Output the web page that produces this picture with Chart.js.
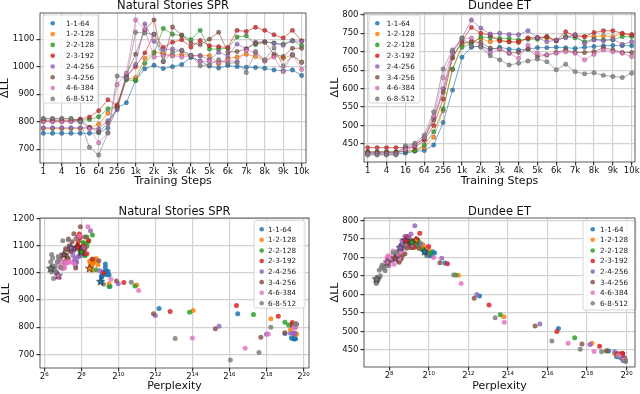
<!DOCTYPE html>
<html>
<head>
<meta charset="utf-8">
<script src="https://cdn.jsdelivr.net/npm/chart.js@4.4.1/dist/chart.umd.min.js"></script>
<style>
  html, body { margin: 0; padding: 0; background: #fff; }
  #wrap { position: relative; width: 640px; height: 394px; overflow: hidden; }
  .cell { position: absolute; width: 320px; height: 197px; }
</style>
</head>
<body>
<div id="wrap">
  <div class="cell" style="left:0;top:0"><canvas id="nsLine" width="320" height="197"></canvas></div>
  <div class="cell" style="left:320px;top:0"><canvas id="dtLine" width="320" height="197"></canvas></div>
  <div class="cell" style="left:0;top:197px"><canvas id="nsScatter" width="320" height="197"></canvas></div>
  <div class="cell" style="left:320px;top:197px"><canvas id="dtScatter" width="320" height="197"></canvas></div>
</div>
<script>
'use strict';

// training steps (x of the top row) and the labels shown on every other one
const steps = [1, 2, 4, 8, 16, 32, 64, 128, 256, 512, 1000, 1500, 2000, 2500, 3000, 3500, 4000,
  4500, 5000, 5500, 6000, 6500, 7000, 7500, 8000, 8500, 9000, 9500, 10000];
const stepTickLabels = ['1', '4', '16', '64', '256', '1k', '2k', '3k', '4k', '5k', '6k', '7k', '8k', '9k', '10k'];

// perplexity axis ticks (powers of two)
const pplTicks = [6, 8, 10, 12, 14, 16, 18, 20];

const models = ['1-1-64', '1-2-128', '2-2-128', '2-3-192', '2-4-256', '3-4-256', '4-6-384', '6-8-512'];
const colors = ['#1f77b4', '#ff7f0e', '#2ca02c', '#d62728', '#9467bd', '#8c564b', '#e377c2', '#7f7f7f'];

// Natural Stories SPR: delta log-likelihood per training step
const nsLL_1_1_64 = [758, 758, 758, 758, 758, 758, 760, 777, 850, 869, 950, 992, 1005, 993, 1000, 1008, 1033, 1021, 1002, 995, 1004, 1000, 998, 997, 994, 988, 985, 988, 968];
const nsLL_1_2_128 = [775, 775, 775, 775, 775, 778, 791, 831, 862, 955, 960, 1030, 1053, 1048, 1040, 1045, 1040, 1040, 1040, 1010, 1030, 1035, 1045, 1037, 1022, 1040, 1030, 1043, 1016];
const nsLL_2_2_128 = [802, 802, 802, 802, 805, 808, 818, 847, 855, 952, 950, 1012, 1050, 1139, 1118, 1113, 1098, 1132, 1064, 1064, 1067, 1108, 1112, 1080, 1090, 1086, 1082, 1095, 1077];
const nsLL_2_3_192 = [803, 803, 803, 803, 810, 817, 840, 880, 858, 965, 1000, 1050, 1118, 1070, 1089, 1098, 1071, 1095, 1076, 1073, 1070, 1132, 1128, 1143, 1132, 1116, 1104, 1132, 1094];
const nsLL_2_4_256 = [778, 778, 778, 778, 778, 778, 774, 804, 843, 960, 1008, 1155, 1092, 1062, 1064, 1058, 1040, 1040, 1025, 1052, 1040, 1082, 1065, 1089, 1090, 1085, 1078, 1093, 1092];
const nsLL_3_4_256 = [810, 810, 810, 810, 805, 780, 763, 794, 850, 970, 1045, 1132, 1170, 1018, 1144, 1115, 1086, 1080, 1100, 1125, 1053, 1055, 1064, 1085, 1089, 1045, 1037, 1067, 1067];
const nsLL_4_6_384 = [800, 800, 800, 800, 800, 775, 723, 760, 935, 977, 1170, 1135, 1035, 1040, 1040, 1035, 1040, 1019, 1019, 1015, 1022, 1018, 1060, 1050, 1020, 1035, 982, 1045, 990];
const nsLL_6_8_512 = [812, 812, 812, 812, 800, 707, 679, 759, 966, 958, 1125, 1122, 1118, 1020, 1052, 1060, 1041, 1003, 1006, 1025, 1012, 1015, 979, 1055, 1025, 1068, 1003, 1041, 1016];

// Dundee ET: delta log-likelihood per training step
const dtLL_1_1_64 = [422, 422, 422, 422, 425, 430, 432, 447, 508, 596, 685, 712, 716, 705, 712, 707, 705, 707, 711, 711, 712, 711, 709, 712, 714, 716, 717, 716, 716];
const dtLL_1_2_128 = [428, 428, 428, 428, 430, 432, 440, 468, 540, 652, 720, 728, 735, 727, 732, 727, 725, 737, 738, 737, 730, 741, 746, 741, 741, 743, 741, 748, 746];
const dtLL_2_2_128 = [428, 428, 428, 428, 430, 432, 447, 483, 545, 653, 712, 722, 740, 738, 736, 736, 732, 734, 734, 741, 730, 741, 738, 727, 734, 732, 732, 741, 741];
const dtLL_2_3_192 = [440, 440, 440, 440, 440, 440, 460, 500, 572, 683, 730, 766, 750, 745, 729, 727, 727, 737, 738, 741, 730, 754, 743, 741, 752, 757, 757, 750, 746];
const dtLL_2_4_256 = [425, 425, 425, 425, 432, 445, 465, 520, 600, 698, 737, 786, 764, 748, 750, 747, 746, 757, 738, 727, 732, 738, 746, 723, 732, 730, 734, 720, 727];
const dtLL_3_4_256 = [428, 428, 428, 428, 440, 448, 466, 515, 590, 686, 725, 727, 725, 710, 707, 696, 698, 707, 687, 691, 698, 705, 698, 698, 700, 711, 705, 698, 698];
const dtLL_4_6_384 = [423, 423, 423, 423, 435, 446, 468, 525, 630, 700, 735, 737, 715, 697, 707, 696, 682, 718, 696, 691, 696, 700, 696, 678, 693, 705, 700, 696, 687];
const dtLL_6_8_512 = [420, 420, 420, 420, 445, 452, 474, 537, 653, 705, 737, 716, 712, 689, 678, 664, 669, 675, 680, 673, 651, 666, 646, 640, 643, 636, 633, 630, 642];

// Natural Stories: log2 perplexity per training step
const nsPpl_1_1_64 = [19.55, 19.55, 19.55, 19.55, 19.5, 19.45, 19.35, 19.0, 16.45, 12.2, 9.55, 9.5, 9.45, 9.4, 9.35, 9.35, 9.3, 9.3, 9.25, 9.25, 9.2, 9.2, 9.2, 9.15, 9.15, 9.1, 9.1, 9.1, 9.05];
const nsPpl_1_2_128 = [19.6, 19.6, 19.6, 19.6, 19.6, 19.5, 19.3, 18.24, 14.04, 11.0, 9.5, 8.9, 8.8, 8.75, 8.7, 8.7, 8.65, 8.65, 8.6, 8.6, 8.6, 8.55, 8.55, 8.55, 8.5, 8.5, 8.5, 8.45, 8.45];
const nsPpl_2_2_128 = [19.5, 19.5, 19.5, 19.5, 19.4, 19.2, 19.0, 17.3, 13.85, 10.9, 9.5, 8.8, 8.6, 8.6, 8.4, 8.35, 8.3, 8.3, 8.2, 8.2, 8.2, 8.15, 8.1, 8.1, 8.05, 8.05, 8.0, 8.0, 8.0];
const nsPpl_2_3_192 = [19.5, 19.5, 19.5, 19.5, 19.4, 19.4, 18.64, 16.38, 12.8, 10.3, 9.2, 8.6, 8.4, 8.3, 8.2, 8.15, 8.1, 8.05, 8.0, 8.0, 7.95, 7.95, 7.9, 7.9, 7.85, 7.85, 7.8, 7.8, 7.8];
const nsPpl_2_4_256 = [19.5, 19.5, 19.5, 19.5, 19.45, 19.3, 18.0, 15.44, 12.0, 10.0, 9.0, 8.5, 8.1, 7.95, 7.9, 7.8, 7.75, 7.7, 7.7, 7.65, 7.6, 7.6, 7.55, 7.55, 7.5, 7.5, 7.5, 7.45, 7.45];
const nsPpl_3_4_256 = [19.6, 19.6, 19.6, 19.6, 19.5, 19.0, 17.7, 15.24, 11.9, 9.9, 8.95, 8.2, 7.95, 7.7, 7.6, 7.5, 7.45, 7.4, 7.35, 7.3, 7.3, 7.25, 7.2, 7.2, 7.15, 7.15, 7.1, 7.1, 7.05];
const nsPpl_4_6_384 = [19.55, 19.55, 19.55, 19.55, 19.5, 18.1, 16.85, 14.0, 11.1, 9.6, 8.36, 7.9, 7.6, 7.4, 7.3, 7.2, 7.15, 7.1, 7.05, 7.0, 7.0, 6.95, 6.9, 6.9, 6.85, 6.85, 6.8, 6.8, 6.75];
const nsPpl_6_8_512 = [19.6, 19.6, 19.6, 19.6, 18.24, 17.6, 16.05, 13.07, 10.7, 9.2, 7.7, 7.3, 7.0, 6.9, 6.8, 6.75, 6.7, 6.65, 6.6, 6.6, 6.55, 6.5, 6.5, 6.45, 6.45, 6.4, 6.4, 6.35, 6.35];

// Dundee: log2 perplexity per training step
const dtPpl_1_1_64 = [19.85, 19.85, 19.85, 19.85, 19.8, 19.7, 19.5, 19.1, 16.56, 12.57, 10.82, 10.3, 10.2, 10.15, 10.1, 10.1, 10.05, 10.0, 10.0, 9.95, 9.95, 9.9, 9.9, 9.9, 9.85, 9.85, 9.8, 9.8, 9.8];
const dtPpl_1_2_128 = [19.85, 19.85, 19.85, 19.85, 19.8, 19.7, 19.4, 18.25, 13.8, 11.5, 10.0, 9.8, 9.7, 9.65, 9.6, 9.6, 9.55, 9.5, 9.5, 9.5, 9.45, 9.45, 9.45, 9.4, 9.4, 9.4, 9.35, 9.35, 9.35];
const dtPpl_2_2_128 = [19.85, 19.85, 19.85, 19.85, 19.75, 19.6, 19.0, 17.38, 13.62, 11.36, 10.1, 9.7, 9.55, 9.5, 9.45, 9.4, 9.4, 9.35, 9.35, 9.3, 9.3, 9.3, 9.25, 9.25, 9.2, 9.2, 9.2, 9.15, 9.15];
const dtPpl_2_3_192 = [19.8, 19.8, 19.8, 19.8, 19.75, 19.6, 18.64, 16.48, 13.05, 10.95, 10.0, 9.55, 9.4, 9.3, 9.25, 9.2, 9.15, 9.1, 9.1, 9.05, 9.0, 9.0, 8.95, 8.95, 8.9, 8.9, 8.85, 8.85, 8.85];
const dtPpl_2_4_256 = [19.85, 19.85, 19.85, 19.85, 19.7, 19.4, 18.15, 15.62, 12.43, 10.66, 9.6, 9.3, 9.1, 9.0, 8.95, 8.9, 8.85, 8.8, 8.8, 8.75, 8.7, 8.7, 8.65, 8.65, 8.65, 8.6, 8.6, 8.6, 8.55];
const dtPpl_3_4_256 = [19.9, 19.9, 19.9, 19.9, 19.5, 19.0, 17.75, 15.38, 12.3, 10.57, 9.5, 9.1, 8.9, 8.8, 8.7, 8.6, 8.6, 8.55, 8.5, 8.5, 8.45, 8.45, 8.4, 8.4, 8.4, 8.35, 8.35, 8.35, 8.3];
const dtPpl_4_6_384 = [19.9, 19.9, 19.9, 19.9, 19.6, 18.36, 17.05, 13.82, 11.64, 10.25, 9.2, 8.8, 8.6, 8.5, 8.4, 8.3, 8.25, 8.2, 8.15, 8.1, 8.1, 8.05, 8.0, 8.0, 7.95, 7.95, 7.9, 7.9, 7.9];
const dtPpl_6_8_512 = [19.95, 19.95, 19.95, 19.95, 18.74, 17.66, 16.23, 13.36, 11.26, 9.9, 8.8, 8.4, 8.2, 8.0, 7.9, 7.8, 7.75, 7.7, 7.65, 7.6, 7.55, 7.5, 7.5, 7.45, 7.4, 7.4, 7.35, 7.35, 7.35];

const nsLL = [nsLL_1_1_64, nsLL_1_2_128, nsLL_2_2_128, nsLL_2_3_192, nsLL_2_4_256, nsLL_3_4_256, nsLL_4_6_384, nsLL_6_8_512];
const dtLL = [dtLL_1_1_64, dtLL_1_2_128, dtLL_2_2_128, dtLL_2_3_192, dtLL_2_4_256, dtLL_3_4_256, dtLL_4_6_384, dtLL_6_8_512];
const nsPpl = [nsPpl_1_1_64, nsPpl_1_2_128, nsPpl_2_2_128, nsPpl_2_3_192, nsPpl_2_4_256, nsPpl_3_4_256, nsPpl_4_6_384, nsPpl_6_8_512];
const dtPpl = [dtPpl_1_1_64, dtPpl_1_2_128, dtPpl_2_2_128, dtPpl_2_3_192, dtPpl_2_4_256, dtPpl_3_4_256, dtPpl_4_6_384, dtPpl_6_8_512];

Chart.defaults.font.family = '"DejaVu Sans", sans-serif';
Chart.defaults.color = '#111';

const tickFont = { size: 8.5 };
const labelFont = { size: 11, lineHeight: 1 };
const gridColor = '#d2d2d2';

function hexA(hex, a) {
  const n = parseInt(hex.slice(1), 16);
  return `rgba(${(n >> 16) & 255},${(n >> 8) & 255},${n & 255},${a})`;
}

const SUP = { '0': '⁰', '1': '¹', '2': '²', '3': '³', '4': '⁴', '5': '⁵', '6': '⁶', '7': '⁷', '8': '⁸', '9': '⁹' };
function pow2Label(v) {
  return '2' + String(v).split('').map(c => SUP[c]).join('');
}

// small filled star used for the final checkpoint of each model
function starImage(color) {
  const c = document.createElement('canvas');
  c.width = 9; c.height = 9;
  const g = c.getContext('2d');
  g.beginPath();
  for (let k = 0; k < 10; k++) {
    const r = k % 2 === 0 ? 4.2 : 1.8;
    const a = -Math.PI / 2 + k * Math.PI / 5;
    const px = 4.5 + r * Math.cos(a), py = 4.6 + r * Math.sin(a);
    if (k === 0) g.moveTo(px, py); else g.lineTo(px, py);
  }
  g.closePath();
  g.fillStyle = color;
  g.fill();
  g.lineWidth = 0.7;
  g.strokeStyle = '#222';
  g.stroke();
  return c;
}

// title + full frame like matplotlib axes
const framePlugin = {
  id: 'frame',
  afterDraw(chart, args, opts) {
    const { ctx, chartArea: a } = chart;
    ctx.save();
    ctx.strokeStyle = '#333';
    ctx.lineWidth = 0.8;
    ctx.strokeRect(a.left, a.top, a.right - a.left, a.bottom - a.top);
    ctx.font = '11.5px "DejaVu Sans"';
    ctx.fillStyle = '#111';
    ctx.textAlign = 'center';
    ctx.textBaseline = 'alphabetic';
    ctx.fillText(opts.text, (a.left + a.right) / 2, opts.y);
    ctx.restore();
  }
};

// legend box drawn inside the axes
const insideLegend = {
  id: 'insideLegend',
  afterDatasetsDraw(chart, args, opts) {
    const ctx = chart.ctx;
    ctx.save();
    ctx.beginPath();
    ctx.roundRect(opts.x, opts.y, opts.w, opts.h, 2);
    ctx.fillStyle = 'rgba(255,255,255,0.8)';
    ctx.fill();
    ctx.strokeStyle = '#cccccc';
    ctx.lineWidth = 0.8;
    ctx.stroke();
    ctx.font = '7.2px "DejaVu Sans"';
    ctx.textBaseline = 'middle';
    ctx.textAlign = 'left';
    models.forEach((m, k) => {
      const y = opts.row0 + k * opts.rowStep;
      ctx.beginPath();
      ctx.arc(opts.markX, y, 2.3, 0, Math.PI * 2);
      ctx.fillStyle = hexA(colors[k], 0.85);
      ctx.fill();
      ctx.fillStyle = '#222';
      ctx.fillText(m, opts.textX, y + 0.5);
    });
    ctx.restore();
  }
};

function yScale(g, min, max, step) {
  return {
    min: min, max: max,
    ticks: { stepSize: step, includeBounds: false, font: tickFont, color: '#111', padding: 2,
      callback: v => String(v) },
    grid: { color: gridColor, lineWidth: 1.2, tickColor: '#333', tickLength: 3.5 },
    border: { display: false },
    title: { display: true, text: 'ΔLL', font: labelFont, color: '#111', padding: { top: g.yTitle, bottom: 0 } },
    afterFit: s => { s.width = g.yw; s.paddingTop = 0; s.paddingBottom = 0; }
  };
}

function baseOptions(g, title) {
  return {
    responsive: false,
    animation: false,
    events: [],
    layout: { padding: { left: 0, top: g.top, right: g.right, bottom: 0 } },
    plugins: {
      legend: { display: false },
      tooltip: { enabled: false },
      frame: { text: title, y: g.titleY },
      insideLegend: g.legend
    }
  };
}

function lineChart(id, title, llSets, g, yMin, yMax, yStep) {
  const datasets = llSets.map((vals, k) => ({
    label: models[k],
    data: vals.map((v, i) => ({ x: i, y: v })),
    borderColor: hexA(colors[k], 0.7),
    backgroundColor: hexA(colors[k], 0.8),
    borderWidth: 0.9,
    pointRadius: 2.2,
    pointBackgroundColor: hexA(colors[k], 0.8),
    pointBorderColor: 'rgba(40,40,40,0.45)',
    pointBorderWidth: 0.6,
    tension: 0,
    order: models.length - k
  }));
  const opts = baseOptions(g, title);
  opts.scales = {
    x: {
      type: 'linear', min: g.xMin, max: g.xMax,
      afterBuildTicks: s => { s.ticks = stepTickLabels.map((_, k) => ({ value: 2 * k })); },
      ticks: { autoSkip: false, maxRotation: 0, minRotation: 0, font: tickFont, color: '#111', padding: 0,
        callback: v => stepTickLabels[v / 2] },
      grid: { color: gridColor, lineWidth: 1.2, tickColor: '#333', tickLength: 3.5 },
      border: { display: false },
      title: { display: true, text: 'Training Steps', font: labelFont, color: '#111', padding: { top: 0, bottom: g.xTitle } },
      afterFit: s => { s.height = g.xh; s.paddingLeft = 0; s.paddingRight = 0; }
    },
    y: yScale(g, yMin, yMax, yStep)
  };
  return new Chart(document.getElementById(id), {
    type: 'line',
    data: { datasets: datasets },
    options: opts,
    plugins: [framePlugin, insideLegend]
  });
}

function scatterChart(id, title, llSets, pplSets, g, yMin, yMax, yStep) {
  const datasets = llSets.map((vals, k) => ({
    label: models[k],
    data: vals.map((v, i) => ({ x: pplSets[k][i], y: v })),
    backgroundColor: hexA(colors[k], 0.85),
    borderWidth: 0,
    pointRadius: 2.5,
    order: models.length - k
  }));
  // final checkpoint of each model marked with a star
  datasets.push({
    label: 'final',
    data: llSets.map((vals, k) => ({ x: pplSets[k][vals.length - 1], y: vals[vals.length - 1] })),
    pointStyle: colors.map(c => starImage(c)),
    pointRadius: 4,
    order: -1
  });
  const opts = baseOptions(g, title);
  opts.scales = {
    x: {
      type: 'linear', min: g.xMin, max: g.xMax,
      afterBuildTicks: s => { s.ticks = pplTicks.filter(v => v >= g.xMin && v <= g.xMax).map(v => ({ value: v })); },
      ticks: { autoSkip: false, maxRotation: 0, minRotation: 0, font: tickFont, color: '#111', padding: 0,
        callback: v => pow2Label(v) },
      grid: { color: gridColor, lineWidth: 1.2, tickColor: '#333', tickLength: 3.5 },
      border: { display: false },
      title: { display: true, text: 'Perplexity', font: labelFont, color: '#111', padding: { top: 0, bottom: g.xTitle } },
      afterFit: s => { s.height = g.xh; s.paddingLeft = 0; s.paddingRight = 0; }
    },
    y: yScale(g, yMin, yMax, yStep)
  };
  return new Chart(document.getElementById(id), {
    type: 'scatter',
    data: { datasets: datasets },
    options: opts,
    plugins: [framePlugin, insideLegend]
  });
}

lineChart('nsLine', 'Natural Stories SPR', nsLL, {
  top: 13, right: 14, yw: 40, xh: 34, yTitle: 0, xTitle: 10.8, titleY: 8.5,
  xMin: -0.36, xMax: 28.47,
  legend: { x: 43, y: 15, w: 55, h: 88, markX: 52.7, textX: 66, row0: 23.3, rowStep: 10.8 }
}, 650, 1195, 100);

lineChart('dtLine', 'Dundee ET', dtLL, {
  top: 13, right: 5, yw: 44, xh: 35, yTitle: 9.5, xTitle: 10.8, titleY: 8.5,
  xMin: -0.39, xMax: 28.35,
  legend: { x: 49, y: 15, w: 51, h: 88, markX: 57.3, textX: 66.7, row0: 23.3, rowStep: 10.8 }
}, 401, 805, 50);

scatterChart('nsScatter', 'Natural Stories SPR', nsLL, nsPpl, {
  top: 21, right: 11, yw: 40, xh: 26, yTitle: 0.5, xTitle: 2.5, titleY: 17.5,
  xMin: 5.77, xMax: 20.3,
  legend: { x: 254, y: 23.7, w: 51, h: 87.3, markX: 261.7, textX: 268, row0: 32.3, rowStep: 10.57 }
}, 650, 1202, 100);

scatterChart('dtScatter', 'Dundee ET', dtLL, dtPpl, {
  top: 21, right: 2, yw: 44, xh: 27, yTitle: 10, xTitle: 2.5, titleY: 17.5,
  xMin: 6.73, xMax: 20.43,
  legend: { x: 263, y: 23.7, w: 53, h: 89.3, markX: 272.7, textX: 280, row0: 32.3, rowStep: 10.57 }
}, 404, 807, 50);
</script>
</body>
</html>
